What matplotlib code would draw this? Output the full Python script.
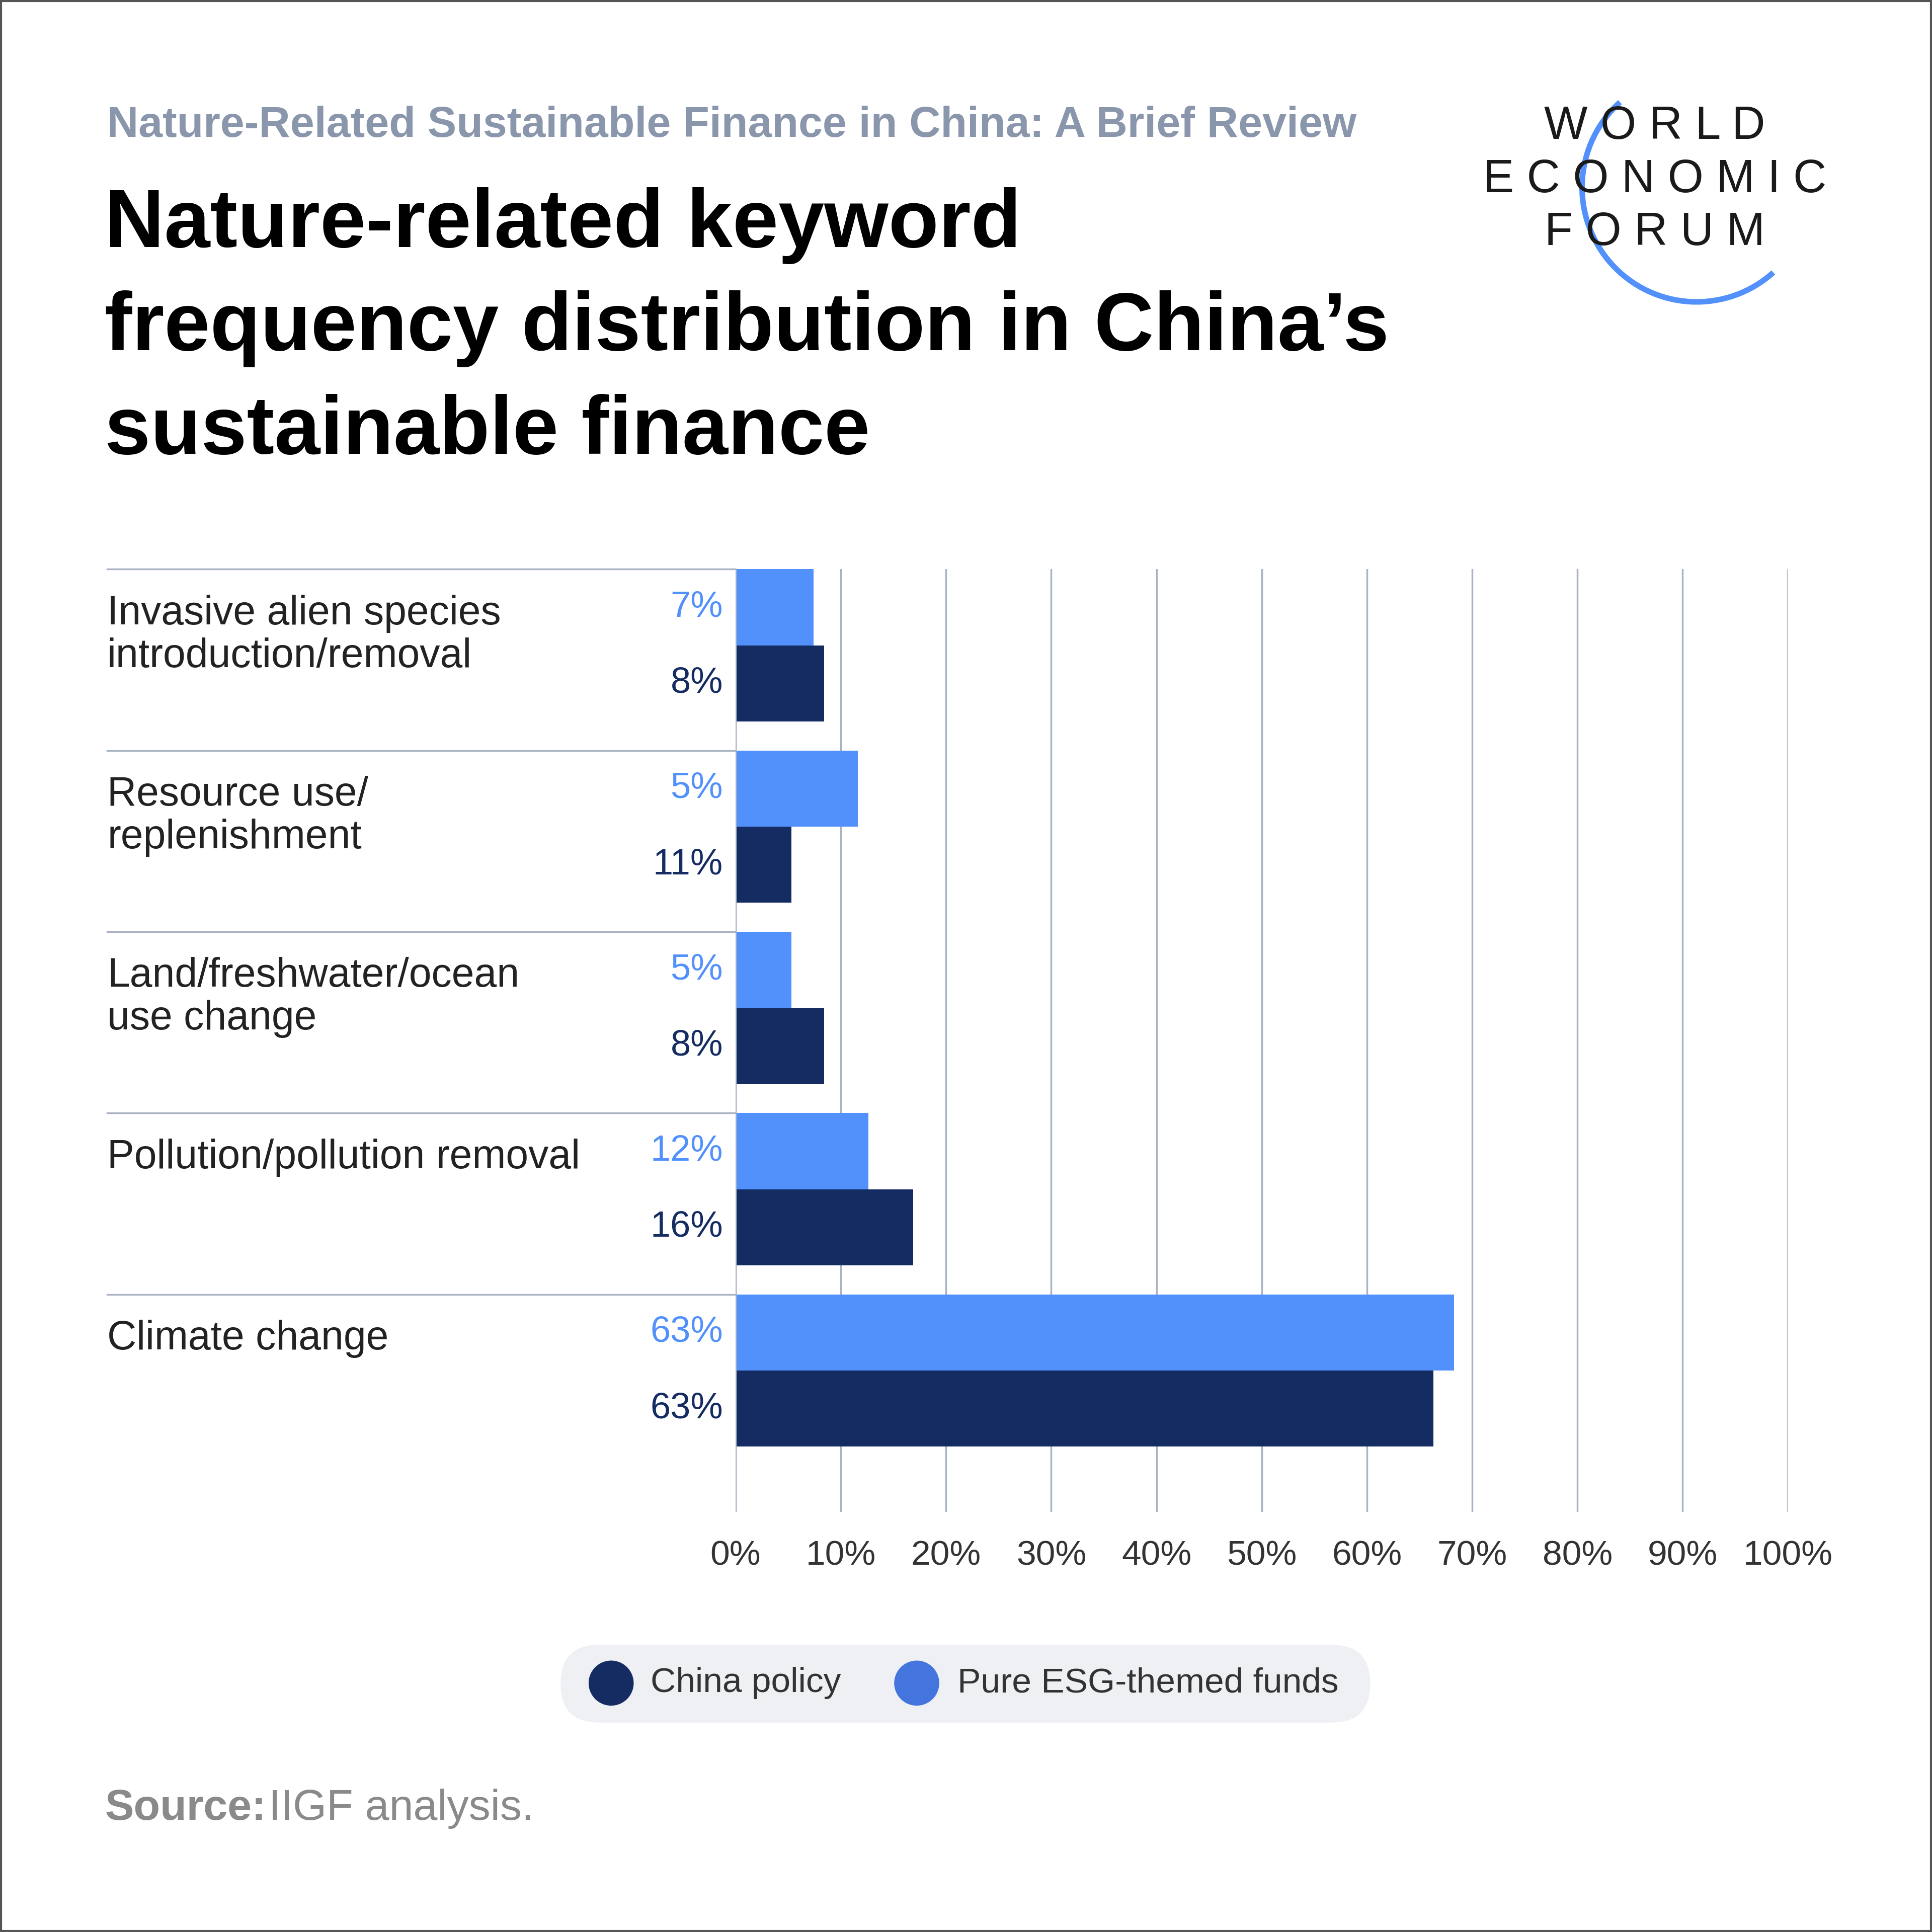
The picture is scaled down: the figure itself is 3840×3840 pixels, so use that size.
import matplotlib
matplotlib.use("Agg")
import matplotlib.pyplot as plt
from matplotlib.patches import FancyBboxPatch, Circle, Arc, Rectangle

plt.rcParams["font.family"] = "Liberation Sans"

categories = ["Invasive alien species\nintroduction/removal", "Resource use/\nreplenishment",
              "Land/freshwater/ocean\nuse change", "Pollution/pollution removal", "Climate change"]
esg_values = [7.4, 11.6, 5.3, 12.6, 68.3]
policy_values = [8.4, 5.3, 8.4, 16.9, 66.3]
esg_labels = ["7%", "5%", "5%", "12%", "63%"]
policy_labels = ["8%", "11%", "8%", "16%", "63%"]
ticks = list(range(0, 101, 10))
tick_labels = [f"{t}%" for t in ticks]

DARK = "#152c63"
LIGHT = "#5291fb"
GRID = "#a9b3c4"
W = 1568.0

def fx(px): return px / W
def fy(py): return 1 - py / W

fig = plt.figure(figsize=(38.4, 38.4), dpi=100)
fig.patches.append(Rectangle((0.0005, 0.0005), 0.999, 0.999, transform=fig.transFigure,
                             fill=False, ec="#555555", lw=3))

fig.text(fx(87), fy(102), "Nature-Related Sustainable Finance in China: A Brief Review",
         fontsize=62, color="#8a96ab", va="center", fontweight="bold")
for i, line in enumerate(["Nature-related keyword", "frequency distribution in China\u2019s",
                          "sustainable finance"]):
    fig.text(fx(85), fy(183 + i * 84), line, fontsize=118, color="black", va="center",
             fontweight="bold")

# logo
for txt, y in [("W O R L D", 103), ("E C O N O M I C", 146), ("F O R U M", 189)]:
    fig.text(fx(1343), fy(y), txt, fontsize=66, ha="center", va="center", color="#1a1a1a")
lax = fig.add_axes([0, 0, 1, 1], facecolor="none")
lax.set_xlim(0, W); lax.set_ylim(W, 0); lax.axis("off")
lax.add_patch(Arc((1377, 152), 186, 186, theta1=48, theta2=228, color=LIGHT, lw=8))

# main axes
x0, x1, y0, y1 = 597, 1451, 462, 1227
ax = fig.add_axes([fx(x0), fy(y1), fx(x1 - x0), (y1 - y0) / W])
ax.set_xlim(0, 100)
ax.set_ylim(5.2, 0)
bh = 0.42
n = len(categories)
ys = list(range(n))
ax.barh([y + bh / 2 for y in ys], esg_values, height=bh, color=LIGHT, zorder=3)
ax.barh([y + 1.5 * bh for y in ys], policy_values, height=bh, color=DARK, zorder=3)
ax.set_xticks(ticks)
ax.set_xticklabels(tick_labels, fontsize=50, color="#333333")
ax.tick_params(axis="x", length=0, pad=40)
ax.set_yticks([])
ax.grid(axis="x", color=GRID, lw=2.5, zorder=0)
for s in ax.spines.values():
    s.set_visible(False)
ax.axvline(0, color=GRID, lw=2.5, zorder=4)

for i in ys:
    ax.text(-1.2, i + bh / 2, esg_labels[i], ha="right", va="center", fontsize=52, color=LIGHT)
    ax.text(-1.2, i + 1.5 * bh, policy_labels[i], ha="right", va="center", fontsize=52, color=DARK)
    ax.plot([-(x0 - 87) / (x1 - x0) * 100, 0], [i, i], color=GRID, lw=2.5, clip_on=False)
    ax.text(-(x0 - 87) / (x1 - x0) * 100, i + 0.14, categories[i], ha="left", va="top",
            fontsize=58, color="#222222", linespacing=1.15)

# legend
lax.add_patch(FancyBboxPatch((455, 1335), 657, 63, boxstyle="round,pad=0,rounding_size=31",
                             fc="#eef0f4", ec="none"))
lax.add_patch(Circle((496, 1366), 18, color=DARK))
lax.text(528, 1366, "China policy", fontsize=50, va="center", color="#333333")
lax.add_patch(Circle((744, 1366), 18, color="#4475df"))
lax.text(777, 1366, "Pure ESG-themed funds", fontsize=50, va="center", color="#333333")

fig.text(fx(85), fy(1468), "Source:", fontsize=62, color="#8a8a8a", fontweight="bold", va="center")
fig.text(fx(218), fy(1468), "IIGF analysis.", fontsize=62, color="#8a8a8a", va="center")

fig.savefig("out.png", dpi=100)
